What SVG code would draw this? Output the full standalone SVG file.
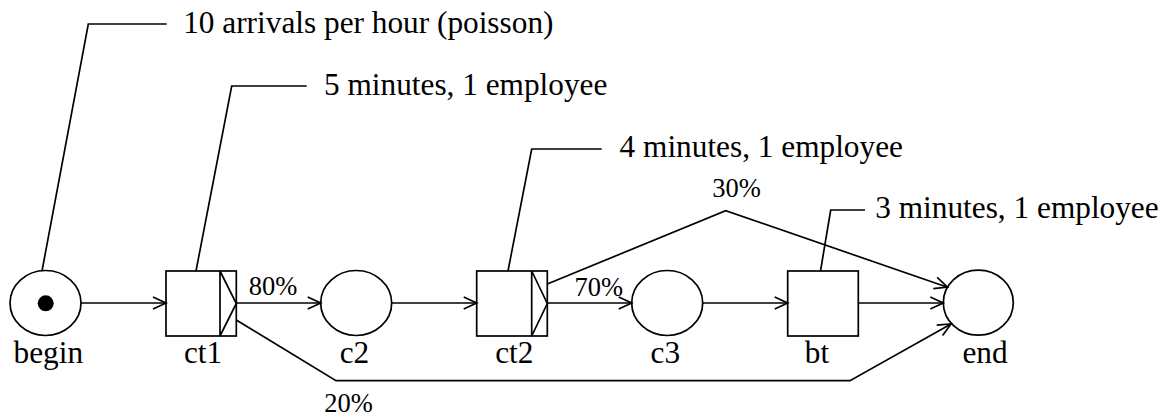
<svg xmlns="http://www.w3.org/2000/svg" width="1164" height="418" viewBox="0 0 1164 418" font-family="'Liberation Serif', 'Times New Roman', Times, 'DejaVu Serif', serif">
<style>
.n{fill:none;stroke:#000;stroke-width:1.7}
.c{fill:none;stroke:#000;stroke-width:1.7;marker-end:url(#arr)}
.l{fill:none;stroke:#000;stroke-width:1.7}
text{fill:#000}
.lab{font-size:31.3px;text-anchor:middle}
.ann{font-size:31.3px}
.pct{font-size:26.5px}
</style>
<defs>
<marker id="arr" markerWidth="16" markerHeight="16" refX="14" refY="7" orient="auto" markerUnits="userSpaceOnUse" overflow="visible">
<path d="M1,1 L14,7 L1,13" fill="none" stroke="#000" stroke-width="1.7"/>
</marker>
</defs>
<rect width="1164" height="418" fill="#fff"/>
<g id="connectors">
<path class="c" d="M81,303 H166"/>
<path class="c" d="M236.3,303 H320.7"/>
<path class="c" d="M391.7,303 H476.7"/>
<path class="c" d="M547.3,303 H631.7"/>
<path class="c" d="M702.7,303 H787.7"/>
<path class="c" d="M858.3,303 H943.3"/>
<path class="c" d="M236.3,320 L336,380.7 H850 L951,324"/>
<path class="c" d="M547.3,284 L725.7,210.7 L947.5,287.2"/>
<text class="pct" x="248.7" y="295">80%</text>
<text class="pct" x="574.5" y="295.5">70%</text>
<text class="pct" x="712.2" y="197.3">30%</text>
<text class="pct" x="324.2" y="412">20%</text>
</g>
<g id="begin">
<ellipse class="n" cx="45.5" cy="303" rx="35.5" ry="32.5"/>
<circle cx="45.7" cy="303.3" r="8" fill="#000"/>
<text class="lab" x="48.3" y="363">begin</text>
<path class="l" d="M42,271 L88.3,24 H166.7"/>
<text class="ann" x="183.2" y="33">10 arrivals per hour (poisson)</text>
</g>
<g id="ct1">
<rect class="n" x="166" y="271" width="70.3" height="65"/>
<path class="n" d="M220,271 V336 M220,271 L236.3,303.5 L220,336"/>
<text class="lab" x="203" y="363">ct1</text>
<path class="l" d="M196,271 L231.7,86 H306.7"/>
<text class="ann" x="324" y="95">5 minutes, 1 employee</text>
</g>
<g id="c2">
<ellipse class="n" cx="356.2" cy="303" rx="35.5" ry="32.5"/>
<text class="lab" x="354.5" y="363">c2</text>
</g>
<g id="ct2">
<rect class="n" x="476.7" y="271" width="70.6" height="65"/>
<path class="n" d="M531.7,271 V336 M531.7,271 L547.3,303.5 L531.7,336"/>
<text class="lab" x="514.3" y="363">ct2</text>
<path class="l" d="M508,271 L531.7,149 H601.7"/>
<text class="ann" x="619.6" y="156.7">4 minutes, 1 employee</text>
</g>
<g id="c3">
<ellipse class="n" cx="667.2" cy="303" rx="35.5" ry="32.5"/>
<text class="lab" x="665.3" y="363">c3</text>
</g>
<g id="bt">
<rect class="n" x="787.7" y="271" width="70.6" height="65"/>
<text class="lab" x="817" y="363">bt</text>
<path class="l" d="M820.5,271 L830.7,210 H865"/>
<text class="ann" x="875.3" y="218">3 minutes, 1 employee</text>
</g>
<g id="end">
<ellipse class="n" cx="978.3" cy="302.7" rx="35" ry="32.5"/>
<text class="lab" x="985" y="363">end</text>
</g>
</svg>
